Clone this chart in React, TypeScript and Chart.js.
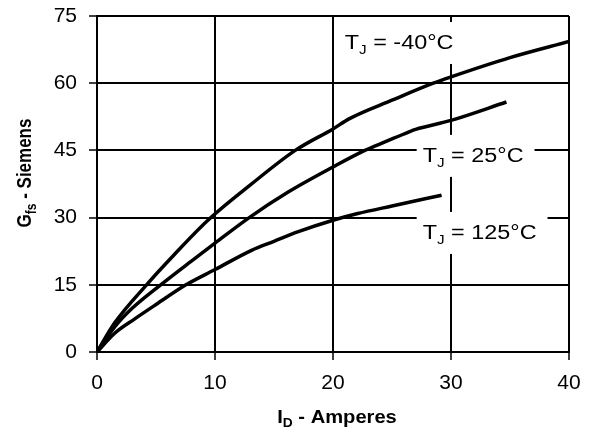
import { useEffect, useRef } from 'react';
import { Chart, registerables } from 'chart.js';
Chart.register(...registerables);

// I_D (A) and G_fs (S) for each junction temperature
const idM40 = [0, 1.5, 4.2, 6.5, 9.4, 13, 16.8, 20, 21.4, 25, 28.5, 30, 35, 40];
const gfsM40 = [0, 6.5, 15, 21.6, 29.4, 37.3, 45, 49.8, 52.1, 56.2, 60, 61.4, 65.7, 69.3];

const id25 = [0, 1.5, 3, 5.4, 8, 10, 12.9, 16.2, 20, 22.7, 24.5, 26.4, 27, 30, 34.7];
const gfs25 = [0, 5.6, 9.8, 15, 20.3, 24.3, 30, 35.7, 41.3, 45, 47, 49.1, 49.7, 51.7, 55.8];

const id125 = [0, 1.5, 3.2, 5, 7.54, 10, 13.1, 15, 17, 20, 22.1, 25, 29.2];
const gfs125 = [0, 4.2, 7.4, 10.6, 15, 18.4, 22.7, 24.7, 26.8, 29.4, 30.9, 32.6, 35];

const xTickValues = [0, 10, 20, 30, 40];
const yTickValues = [0, 15, 30, 45, 60, 75];

const curveLabels = ['-40°C', '25°C', '125°C'];
const labelAnchorX = [21.0, 27.6, 27.6];
const labelAnchorY = [69.2, 44.0, 26.8];

const FONT = '"Liberation Sans", Arial, Helvetica, sans-serif';
const STRETCH = 1.17;

function subWidth(ctx: CanvasRenderingContext2D, main: string, sub: string, rest: string, size: number, subSize: number, weight: string) {
  ctx.font = `${weight} ${size}px ${FONT}`;
  let w = ctx.measureText(main).width + ctx.measureText(rest).width;
  ctx.font = `${weight} ${subSize}px ${FONT}`;
  w += ctx.measureText(sub).width;
  return w;
}

function drawSub(ctx: CanvasRenderingContext2D, x: number, base: number, main: string, sub: string, rest: string, size: number, subSize: number, weight: string, drop: number) {
  ctx.textAlign = 'left';
  ctx.textBaseline = 'alphabetic';
  ctx.fillStyle = '#000';
  ctx.font = `${weight} ${size}px ${FONT}`;
  ctx.fillText(main, x, base);
  x += ctx.measureText(main).width;
  ctx.font = `${weight} ${subSize}px ${FONT}`;
  ctx.fillText(sub, x, base + drop);
  x += ctx.measureText(sub).width;
  ctx.font = `${weight} ${size}px ${FONT}`;
  ctx.fillText(rest, x, base);
}

const textPlugin = {
  id: 'textPlugin',
  beforeDatasetsDraw(chart: any) {
    const { ctx, chartArea, scales } = chart;
    const xs = scales.x;
    const ys = scales.y;
    curveLabels.forEach((t, i) => {
      const px = xs.getPixelForValue(labelAnchorX[i]);
      const cy = ys.getPixelForValue(labelAnchorY[i]);
      const rest = ' = ' + t;
      ctx.save();
      const w = subWidth(ctx, 'T', 'J', rest, 20, 13, 'normal') * STRETCH;
      const l = px - 6;
      const r = Math.min(px + w + 11, chartArea.right - 1.5);
      const tp = Math.max(cy - 20, chartArea.top + 1.5);
      const b = cy + 22;
      ctx.fillStyle = '#fff';
      ctx.fillRect(l, tp, r - l, b - tp);
      ctx.translate(px, cy + 0.358 * 20);
      ctx.scale(STRETCH, 1);
      drawSub(ctx, 0, 0, 'T', 'J', rest, 20, 13, 'normal', 5);
      ctx.restore();
    });
  },
  afterDraw(chart: any) {
    const { ctx, chartArea } = chart;
    ctx.save();
    // x title
    const wx = subWidth(ctx, 'I', 'D', ' - Amperes', 19, 13, 'bold') * 1.06;
    const cx = (chartArea.left + chartArea.right) / 2 + 4;
    ctx.translate(cx - wx / 2, chart.height - 10);
    ctx.scale(1.06, 1);
    drawSub(ctx, 0, 0, 'I', 'D', ' - Amperes', 19, 13, 'bold', 4);
    ctx.restore();
    // y title
    ctx.save();
    const wy = subWidth(ctx, 'G', 'fs', ' - Siemens', 17, 12, 'bold');
    const cyy = (chartArea.top + chartArea.bottom) / 2 - 11;
    ctx.translate(24, cyy);
    ctx.rotate(-Math.PI / 2);
    ctx.scale(1, STRETCH);
    drawSub(ctx, -wy / 2, 0.358 * 17, 'G', 'fs', ' - Siemens', 17, 12, 'bold', 4);
    ctx.restore();
  },
};

export default function App() {
  const ref = useRef<HTMLCanvasElement | null>(null);
  useEffect(() => {
    document.body.style.margin = '0';
    const canvas = ref.current;
    if (!canvas) return;
    const mk = (xs: number[], ys: number[]) => xs.map((x, i) => ({ x, y: ys[i] }));
    const ds = (data: any) => ({
      data,
      borderColor: '#000',
      borderWidth: 3.5,
      pointRadius: 0,
      fill: false,
      cubicInterpolationMode: 'monotone' as const,
    });
    const tickFont = { family: FONT, size: 21 };
    const chart = new Chart(canvas, {
      type: 'line',
      data: {
        datasets: [ds(mk(idM40, gfsM40)), ds(mk(id25, gfs25)), ds(mk(id125, gfs125))],
      },
      options: {
        animation: false,
        responsive: false,
        devicePixelRatio: 1,
        layout: { padding: { top: 16, right: 22, left: 0, bottom: 0 } },
        plugins: { legend: { display: false }, tooltip: { enabled: false } },
        scales: {
          x: {
            type: 'linear',
            min: 0,
            max: 40,
            afterBuildTicks: (s: any) => {
              s.ticks = xTickValues.map((v) => ({ value: v }));
            },
            afterFit: (s: any) => {
              s.height = 81;
              s.paddingLeft = 0;
              s.paddingRight = 0;
            },
            ticks: { color: '#000', font: tickFont, padding: 11, maxRotation: 0, autoSkip: false },
            grid: { color: '#000', lineWidth: 2, tickLength: 8, tickColor: '#000', tickWidth: 1.5 },
            border: { color: '#000', width: 2 },
          },
          y: {
            type: 'linear',
            min: 0,
            max: 75,
            afterBuildTicks: (s: any) => {
              s.ticks = yTickValues.map((v) => ({ value: v }));
            },
            afterFit: (s: any) => {
              s.width = 97;
              s.paddingTop = 0;
              s.paddingBottom = 0;
            },
            ticks: { color: '#000', font: tickFont, padding: 12, autoSkip: false },
            grid: { color: '#000', lineWidth: 2, tickLength: 8, tickColor: '#000', tickWidth: 1.5 },
            border: { color: '#000', width: 2 },
          },
        },
      },
      plugins: [textPlugin],
    });
    return () => chart.destroy();
  }, []);
  return (
    <div style={{ width: 591, height: 433 }}>
      <canvas ref={ref} width={591} height={433} style={{ display: 'block' }} />
    </div>
  );
}
